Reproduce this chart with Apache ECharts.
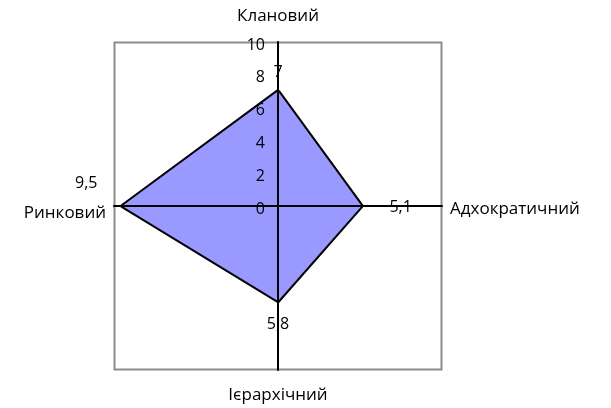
<!DOCTYPE html>
<html>
<head>
<meta charset="utf-8">
<script src="https://cdn.jsdelivr.net/npm/echarts@6/dist/echarts.min.js"></script>
<style>
  html, body { margin: 0; padding: 0; background: #fff; }
  #chart { width: 611px; height: 408px; }
</style>
</head>
<body>
<div id="chart"></div>
<script>
// ECharts radar runs counter-clockwise: top, left, bottom, right
var categories = ['Клановий', 'Ринковий', 'Ієрархічний', 'Адхократичний'];
var values = [7, 9.5, 5.8, 5.1];
var axisMax = 10;

// label shifts from each vertex, in px [dx, dy]
var labelShift = [[0, -19], [-36, -23], [0, 23], [39, 1]];
var namePad = [[0, 0, 9, 0], [14, 0, 0, 0], [9, 0, 0, 0], [6, 0, 0, 0]];

var FONT = '"Open Sans", sans-serif';
var FS = 16;

function pad(s) {
    var dx = s[0], dy = s[1];
    return [dy > 0 ? 2 * dy : 0, dx < 0 ? -2 * dx : 0, dy < 0 ? -2 * dy : 0, dx > 0 ? 2 * dx : 0];
}

var labelRich = {};
labelShift.forEach(function (s, i) {
    labelRich['v' + i] = { fontFamily: FONT, fontSize: FS, color: '#000', padding: pad(s) };
});
var nameRich = {};
namePad.forEach(function (p, i) {
    nameRich['n' + i] = { fontFamily: FONT, fontSize: 17, color: '#000', padding: p };
});

var chart = echarts.init(document.getElementById('chart'));
chart.setOption({
    animation: false,
    graphic: [{
        type: 'rect',
        shape: { x: 114.5, y: 42.5, width: 327, height: 327 },
        style: { fill: 'none', stroke: '#8c8c8c', lineWidth: 2 },
        z: 0
    }],
    radar: {
        z: 5,
        center: [278, 206],
        radius: 164,
        startAngle: 90,
        splitNumber: 5,
        shape: 'polygon',
        indicator: categories.map(function (c, i) {
            var ind = { name: c, min: 0, max: axisMax };
            if (i === 0) ind.axisLabel = { show: true };
            return ind;
        }),
        axisName: {
            color: '#000',
            fontFamily: FONT,
            fontSize: 17,
            formatter: function (name) {
                return '{n' + categories.indexOf(name) + '|' + name + '}';
            },
            rich: nameRich
        },
        nameGap: 8,
        axisLine: { lineStyle: { color: '#000', width: 2 } },
        axisTick: { show: false },
        splitLine: { show: false },
        splitArea: { show: false },
        axisLabel: {
            show: false,
            margin: 13,
            formatter: function (v) {
                return '{t|' + v + '}';
            },
            rich: {
                t: { fontFamily: FONT, fontSize: FS, color: '#000', padding: [6, 0, 0, 0] }
            }
        }
    },
    series: [{
        type: 'radar',
        z: 2,
        symbol: 'circle',
        symbolSize: 1,
        itemStyle: { color: '#9999ff', borderWidth: 0 },
        lineStyle: { color: '#000', width: 4 },
        areaStyle: { color: '#9999ff', opacity: 1 },
        label: {
            show: true,
            position: 'inside',
            formatter: function (p) {
                var i = values.indexOf(p.value);
                return '{v' + i + '|' + String(p.value).replace('.', ',') + '}';
            },
            rich: labelRich
        },
        data: [{ value: values, name: 'Оцінка' }]
    }]
});
</script>
</body>
</html>
